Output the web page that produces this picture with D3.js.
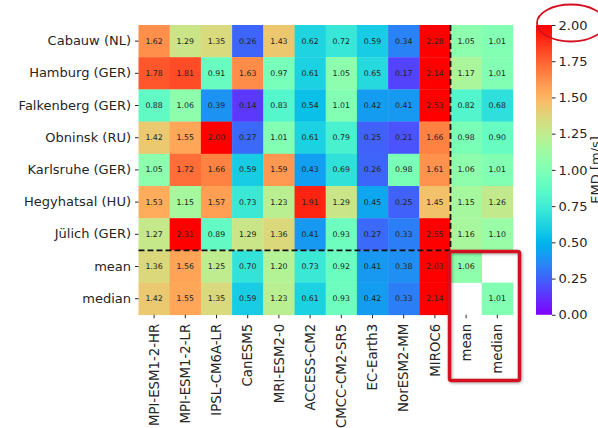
<!DOCTYPE html>
<html>
<head>
<meta charset="utf-8">
<script src="https://cdnjs.cloudflare.com/ajax/libs/d3/7.8.5/d3.min.js"></script>
<style>
body { margin: 0; background: #fff; }
* { font-family: 'DejaVu Sans', sans-serif; }
</style>
</head>
<body>
<svg width="598" height="428"></svg>
<script>
const sites = ['Cabauw (NL)', 'Hamburg (GER)', 'Falkenberg (GER)', 'Obninsk (RU)', 'Karlsruhe (GER)',
  'Hegyhatsal (HU)', 'Jülich (GER)', 'mean', 'median'];
const models = ['MPI-ESM1-2-HR', 'MPI-ESM1-2-LR', 'IPSL-CM6A-LR', 'CanESM5', 'MRI-ESM2-0',
  'ACCESS-CM2', 'CMCC-CM2-SR5', 'EC-Earth3', 'NorESM2-MM', 'MIROC6', 'mean', 'median'];

const cabauw     = [1.62, 1.29, 1.35, 0.26, 1.43, 0.62, 0.72, 0.59, 0.34, 2.28, 1.05, 1.01];
const hamburg    = [1.78, 1.81, 0.91, 1.63, 0.97, 0.61, 1.05, 0.65, 0.17, 2.14, 1.17, 1.01];
const falkenberg = [0.88, 1.06, 0.39, 0.14, 0.83, 0.54, 1.01, 0.42, 0.41, 2.53, 0.82, 0.68];
const obninsk    = [1.42, 1.55, 2.00, 0.27, 1.01, 0.61, 0.79, 0.25, 0.21, 1.66, 0.98, 0.90];
const karlsruhe  = [1.05, 1.72, 1.66, 0.59, 1.59, 0.43, 0.69, 0.26, 0.98, 1.61, 1.06, 1.01];
const hegyhatsal = [1.53, 1.15, 1.57, 0.73, 1.23, 1.91, 1.29, 0.45, 0.25, 1.45, 1.15, 1.26];
const juelich    = [1.27, 2.31, 0.89, 1.29, 1.36, 0.41, 0.93, 0.27, 0.33, 2.55, 1.16, 1.10];
const meanRow    = [1.36, 1.56, 1.25, 0.70, 1.20, 0.73, 0.92, 0.41, 0.38, 2.03, 1.06, null];
const medianRow  = [1.42, 1.55, 1.35, 0.59, 1.23, 0.61, 0.93, 0.42, 0.33, 2.14, null, 1.01];
const rows = [cabauw, hamburg, falkenberg, obninsk, karlsruhe, hegyhatsal, juelich, meanRow, medianRow];

const cbarTicks = [0, 0.25, 0.5, 0.75, 1.0, 1.25, 1.5, 1.75, 2.0];

// matplotlib "rainbow" colormap
function rainbow(t) {
  t = Math.max(0, Math.min(1, t));
  const r = Math.min(1, Math.abs(2 * t - 0.5));
  const g = Math.sin(Math.PI * t);
  const b = Math.cos(Math.PI * t / 2);
  return d3.rgb(r * 255, g * 255, b * 255).toString();
}

const svg = d3.select('svg');
const left = 138.5, plotTop = 25, cellW = 31.2, cellH = 32.2;

const x = d3.scaleBand().domain(models).range([left, left + cellW * models.length]);
const y = d3.scaleBand().domain(sites).range([plotTop, plotTop + cellH * sites.length]);
const color = d3.scaleSequential(rainbow).domain([0, 2]);

const cells = [];
rows.forEach((vals, i) => vals.forEach((v, j) => {
  if (v !== null) cells.push({ site: sites[i], model: models[j], v });
}));

svg.append('g').selectAll('rect')
  .data(cells)
  .enter()
  .append('rect')
  .attr('x', d => x(d.model))
  .attr('y', d => y(d.site))
  .attr('width', x.bandwidth() + 0.3)
  .attr('height', y.bandwidth() + 0.3)
  .attr('fill', d => color(d.v));

svg.append('g').selectAll('text')
  .data(cells)
  .enter()
  .append('text')
  .attr('x', d => x(d.model) + x.bandwidth() / 2)
  .attr('y', d => y(d.site) + y.bandwidth() / 2)
  .attr('text-anchor', 'middle')
  .attr('dominant-baseline', 'central')
  .attr('font-size', 7.8)
  .attr('fill', '#222')
  .text(d => d.v.toFixed(2));

// dashed separators
const sepX = x('mean'), sepY = y('mean');
svg.append('line')
  .attr('x1', left).attr('x2', sepX).attr('y1', sepY).attr('y2', sepY)
  .attr('stroke', '#111').attr('stroke-width', 1.8).attr('stroke-dasharray', '6,3');
svg.append('line')
  .attr('x1', sepX).attr('x2', sepX).attr('y1', plotTop).attr('y2', sepY)
  .attr('stroke', '#111').attr('stroke-width', 1.8).attr('stroke-dasharray', '6,3');

// axes
const yAxis = svg.append('g')
  .attr('transform', `translate(${left},0)`)
  .call(d3.axisLeft(y).tickSize(3.5).tickPadding(4));
yAxis.select('.domain').remove();
yAxis.selectAll('text').attr('font-size', 13).attr('fill', '#262626');
yAxis.selectAll('line').attr('stroke', '#262626');

const plotBottom = plotTop + cellH * sites.length;
const xAxis = svg.append('g')
  .attr('transform', `translate(0,${plotBottom})`)
  .call(d3.axisBottom(x).tickSize(3.5).tickPadding(5));
xAxis.select('.domain').remove();
xAxis.selectAll('line').attr('stroke', '#262626');
xAxis.selectAll('text')
  .attr('font-size', 13.3).attr('fill', '#262626')
  .attr('transform', 'rotate(-90)')
  .attr('text-anchor', 'end')
  .attr('x', -9).attr('y', 0).attr('dy', '0.35em');

// colorbar
const cbX = 536, cbW = 16;
const cbScale = d3.scaleLinear().domain([0, 2]).range([plotBottom, plotTop]);
const grad = svg.append('defs').append('linearGradient')
  .attr('id', 'cbar').attr('x1', 0).attr('x2', 0).attr('y1', 1).attr('y2', 0);
d3.range(0, 1.0001, 0.02).forEach(t => {
  grad.append('stop').attr('offset', t).attr('stop-color', rainbow(t));
});
svg.append('rect')
  .attr('x', cbX).attr('y', plotTop).attr('width', cbW).attr('height', plotBottom - plotTop)
  .attr('fill', 'url(#cbar)');
const cbAxis = svg.append('g')
  .attr('transform', `translate(${cbX + cbW},0)`)
  .call(d3.axisRight(cbScale).tickValues(cbarTicks).tickFormat(d3.format('.2f')).tickSize(3.5).tickPadding(3));
cbAxis.select('.domain').remove();
cbAxis.selectAll('text').attr('font-size', 13).attr('fill', '#262626');
cbAxis.selectAll('line').attr('stroke', '#262626');
svg.append('text')
  .attr('transform', `translate(600,${(plotTop + plotBottom) / 2}) rotate(-90)`)
  .attr('text-anchor', 'middle')
  .attr('font-size', 13).attr('fill', '#262626')
  .text('EMD [m/s]');

// red highlight marks
svg.append('ellipse')
  .attr('cx', 571).attr('cy', 23).attr('rx', 34).attr('ry', 18.5)
  .attr('fill', 'none').attr('stroke', '#d3101f').attr('stroke-width', 1.8);
svg.append('rect')
  .attr('x', 449.5).attr('y', 251.5).attr('width', 70).attr('height', 129)
  .attr('rx', 2)
  .attr('fill', 'none').attr('stroke', '#d3101f').attr('stroke-width', 3.5)
  .style('filter', 'drop-shadow(1px 1px 1.5px rgba(0,0,0,0.35))');
</script>
</body>
</html>
